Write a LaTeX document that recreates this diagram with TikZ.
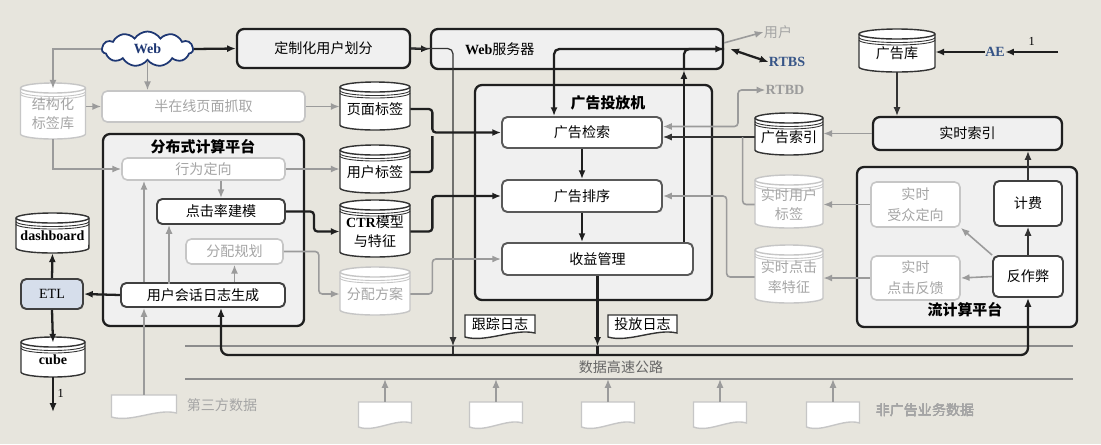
\documentclass[tikz,border=0pt]{standalone}
\usepackage{fontspec}
\setmainfont{Liberation Serif}
\newfontfamily\cjk{Noto Sans CJK SC}
\usetikzlibrary{arrows.meta,shapes.symbols,calc}

\definecolor{bgcol}{RGB}{231,229,221}
\definecolor{panelgray}{RGB}{240,240,240}
\definecolor{etlblue}{RGB}{214,222,235}
\definecolor{arrgray}{RGB}{155,155,155}
\definecolor{fadeborder}{RGB}{198,198,198}
\definecolor{fadetext}{RGB}{165,165,165}
\definecolor{webblue}{RGB}{30,55,115}
\definecolor{rtbsblue}{RGB}{55,85,135}

\tikzset{
  dims/.style 2 args={minimum width=(#1)*0.02cm, minimum height=(#2)*0.02cm, inner sep=0pt},
  blk/.style={draw=black!88, line width=1.3pt},
  blkthin/.style={draw=black!80, line width=0.7pt},
  gry/.style={draw=arrgray, line width=0.9pt},
  hwline/.style={draw=black!45, line width=1.2pt},
  panel/.style={draw=black!88, line width=1.3pt, rounded corners=4pt, fill=panelgray},
  ibox/.style={draw=black!75, line width=1.1pt, rounded corners=3pt, fill=white},
  fadebox/.style={draw=fadeborder, line width=0.9pt, rounded corners=3pt, fill=white, text=fadetext},
  cylline/.style={draw=black!80, line width=0.8pt},
  fcyl/.style={draw=fadeborder, text=fadetext},
  cyltext/.style={align=center, font=\cjk\fontsize{8}{11}\selectfont},
  docline/.style={draw=black!80, line width=0.8pt},
  fdoc/.style={draw=fadeborder, text=fadetext},
  ttl/.style={font=\cjk\bfseries\fontsize{8.5}{10}\selectfont},
  lat/.style={font=\rmfamily\bfseries\fontsize{8}{10}\selectfont},
  glabel/.style={text=fadetext},
}

% cylinder: [style]{name}{cx}{cy}{w}{h}{text}
\newcommand{\dbcyl}[7][]{%
  \pgfmathsetmacro{\cylrx}{#5*0.01}%
  \pgfmathsetmacro{\cylhh}{#6/2}%
  \begin{scope}[shift={(#3,#4)}]
    \filldraw[fill=white,cylline,#1] (-#5/2,-\cylhh+5) -- (-#5/2,\cylhh-5)
      arc[start angle=180,end angle=360,x radius=\cylrx cm,y radius=0.1cm]
      -- (#5/2,-\cylhh+5)
      arc[start angle=0,end angle=180,x radius=\cylrx cm,y radius=0.1cm] -- cycle;
    \draw[cylline,#1] (-#5/2,-\cylhh+5)
      arc[start angle=180,end angle=360,x radius=\cylrx cm,y radius=0.1cm];
    \foreach \s in {3.5,6}
      \draw[cylline,line width=0.5pt,#1] (-#5/2,-\cylhh+5+\s)
        arc[start angle=180,end angle=360,x radius=\cylrx cm,y radius=0.1cm];
  \end{scope}
  \node[cyltext,#1,draw=none,dims={#5}{#6-6}] (#2) at (#3,#4+3) {#7};
}

% document with wavy bottom: [style]{name}{cx}{cy}{w}{h}{text}
\newcommand{\logdoc}[7][]{%
  \begin{scope}[shift={(#3,#4)}]
    \filldraw[fill=white,docline,#1] (-#5/2,-#6/2) -- (#5/2,-#6/2) -- (#5/2,#6/2-4)
      .. controls (#5/5,#6/2-9) and (-#5/5,#6/2+6) .. (-#5/2,#6/2) -- cycle;
  \end{scope}
  \node[#1,draw=none,dims={#5}{#6-4}] (#2) at (#3,#4-2) {#7};
}

\begin{document}
\begin{tikzpicture}[x=0.02cm, y=-0.02cm, >={Latex[length=5pt,width=4pt]},
  every node/.style={font=\cjk\fontsize{8}{10}\selectfont, inner sep=0pt}]
\fill[bgcol] (0,0) rectangle (1101,444);
\useasboundingbox (0,0) rectangle (1101,444);

% platforms
\node[panel,dims={201}{192}] (dist) at (203.5,230) {};
\node[ttl] (distT) at (203,147) {分布式计算平台};
\node[panel,dims={237}{215}] (adm) at (593.5,192.5) {};
\node[ttl] (admT) at (608,103) {广告投放机};
\node[panel,dims={220}{160}] (stream) at (967,247) {};
\node[ttl] (streamT) at (965,310) {流计算平台};

% top row
\node[cloud, cloud puffs=11, cloud puff arc=115, aspect=2.6, draw=webblue, line width=1pt,
  fill=white, text=webblue, font=\rmfamily\bfseries\fontsize{8}{10}\selectfont,
  minimum width=1.82cm, minimum height=0.7cm, inner sep=0pt] (web) at (147.5,49) {Web};
\node[panel,dims={173}{39}] (custseg) at (323.5,48.5) {定制化用户划分};
\node[panel,dims={292}{40},inner xsep=0.68cm,text width=4.48cm,align=left] (websrv) at (577,49) {{\rmfamily\bfseries Web}服务器};

% left column
\dbcyl[fcyl]{structlib}{53}{111}{65}{56}{结构化\\标签库}
\node[fadebox,dims={203}{31}] (semion) at (203.5,106.5) {半在线页面抓取};
\node[fadebox,dims={163}{22}] (behav) at (203.5,169) {行为定向};
\node[ibox,dims={128}{25}] (ctrmod) at (221,211.5) {点击率建模};
\node[fadebox,dims={97}{25}] (alloc) at (234.5,251.5) {分配规划};
\node[ibox,dims={164}{24}] (sessgen) at (203,295) {用户会话日志生成};
\node[ibox,dims={62}{30},fill=etlblue,font=\rmfamily\fontsize{8}{10}\selectfont] (etl) at (52,294) {ETL};
\dbcyl{dash}{52.5}{233}{73}{40}{{\rmfamily\bfseries dashboard}}
\dbcyl{cube}{53}{357}{64}{40}{{\rmfamily\bfseries cube}}
\coordinate (cubeout) at (53,412);
\logdoc[fdoc]{thirdp}{144}{406}{65}{22}{}
\node[glabel] (thirdpT) at (222,405) {第三方数据};

% tag stores
\dbcyl{pagetag}{375}{106}{70}{48}{页面标签}
\dbcyl{usertag}{375}{169}{70}{48}{用户标签}
\dbcyl{ctrfeat}{375}{228.5}{70}{57}{{\rmfamily\bfseries CTR}模型\\与特征}
\dbcyl[fcyl]{allocplan}{375}{291}{70}{48}{分配方案}

% ad server
\node[ibox,draw=black!65,dims={160}{31}] (retr) at (582,132.5) {广告检索};
\node[ibox,draw=black!65,dims={160}{32}] (rank) at (582,196) {广告排序};
\node[ibox,draw=black!65,dims={191}{32}] (rev) at (597.5,259) {收益管理};
\logdoc{tracelog}{500}{326}{70}{22}{跟踪日志}
\logdoc{deliverlog}{642.5}{326}{69}{22}{投放日志}

% right side
\node[glabel] (usr) at (778,32) {用户};
\node[lat,text=rtbsblue] (rtbs) at (787,62) {RTBS};
\node[lat,text=arrgray] (rtbd) at (785,90) {RTBD};
\dbcyl{adlib}{897}{50.5}{76}{43}{广告库}
\node[lat,text=rtbsblue] (ae) at (995,52) {AE};
\coordinate (aein) at (1058,52);
\node[panel,dims={189}{33}] (rtidx) at (967.5,133.5) {实时索引};
\dbcyl{adidx}{789}{134}{68}{42}{广告索引}
\dbcyl[fcyl]{rtuser}{789}{201.5}{68}{53}{实时用户\\标签}
\dbcyl[fcyl]{rtctr}{789}{274}{68}{58}{实时点击\\率特征}
\node[fadebox,dims={89}{45},align=center,font=\cjk\fontsize{8}{12}\selectfont] (rtaud) at (915.5,204.5) {实时\\受众定向};
\node[ibox,dims={68}{45}] (billing) at (1028,203.5) {计费};
\node[fadebox,dims={89}{44},align=center,font=\cjk\fontsize{8}{12}\selectfont] (rtclick) at (915.5,278) {实时\\点击反馈};
\node[ibox,dims={70}{41}] (antifraud) at (1028,276.5) {反作弊};

% data highway
\coordinate (hwTL) at (185,346); \coordinate (hwTR) at (1073,346);
\coordinate (hwBL) at (185,379); \coordinate (hwBR) at (1073,379);
\coordinate (bus) at (600,355);
\coordinate (trkin) at (453,346);
\node[text=black!60] (hwT) at (621,367) {数据高速公路};
\foreach \n/\x in {1/385,2/496,3/608,4/720,5/833}
  \logdoc[fdoc]{d\n}{\x}{414.5}{53}{25}{}
\node[glabel] (nonad) at (925,410) {非广告业务数据};

\draw[hwline] (hwTL) -- (hwTR);
\draw[hwline] (hwBL) -- (hwBR);
\foreach \n in {1,...,5}
  \draw[gry,->] (d\n.north) -- (d\n.north |- hwBL);

% connectors, left
\draw[blk,->] (web.east) -- (custseg.west);
\draw[blk,->] (custseg.east) -- (websrv.west);
\draw[blkthin,->,rounded corners=3pt] (custseg.east) -| (trkin);
\draw[blkthin] (trkin) -- (trkin |- bus);
\draw[gry,->] (web.west) -| (structlib.north);
\draw[gry,->] (web.south) -- (web.south |- semion.north);
\draw[gry,->] (structlib.east |- semion.west) -- (semion.west);
\draw[gry,->] (semion.east) -- (pagetag.west |- semion.east);
\draw[gry,->] (structlib.south) |- (behav.west);
\draw[gry,->] (behav.east) -- (usertag.west |- behav.east);
\draw[gry,->] (behav.south -| ctrmod) -- (ctrmod.north);
\draw[blk,->,rounded corners=2pt] (ctrmod.east) -- ++(28,0) |- (ctrfeat.west);
\draw[gry,->,rounded corners=2pt] (alloc.east) -- ++(35,0) |- (allocplan.west);
\draw[gry,->] (sessgen.north -| thirdp) -- (behav.south -| thirdp);
\draw[gry,<-] ($(ctrmod.south west)+(13,0)$) -- ++(0,59);
\draw[gry,->] (sessgen.north -| alloc) -- (alloc.south);
\draw[blk,->] (sessgen.west) -- (etl.east);
\draw[blk,->] (etl.north) -- (dash.south);
\draw[blk,->] (etl.south) -- (cube.north);
\draw[blk,->] (cube.south) -- (cubeout) node[pos=0.45,right=2pt,font=\rmfamily\scriptsize] {1};
\draw[gry,->] (thirdp.north) -- (sessgen.south -| thirdp);

% connectors, middle
\draw[blk,->,rounded corners=2pt] (pagetag.east) -- ++(22,0) |- (retr.west);
\draw[blk,rounded corners=2pt] (usertag.east) -- ++(22,0) -- ++(0,-36);
\draw[blk,->,rounded corners=2pt] (ctrfeat.east) -- ++(22,0) |- (rank.west);
\draw[gry,->,rounded corners=2pt] (allocplan.east) -- ++(22,0) |- (rev.west);
\draw[blk,->] (retr.south) -- (rank.north);
\draw[blk,->] (rank.south) -- (rank.south |- rev.north);
\coordinate (retrup) at ($(retr.north west)+(53,0)$);
\draw[blk,<->,rounded corners=3pt] (retrup) |- (websrv.east);
\coordinate (revup) at ($(rev.north east)+(-10,0)$);
\draw[blk,->] (revup) -- (revup |- websrv.south);
\draw[blk,rounded corners=3pt] (revup |- websrv.south) |- (websrv.east);
\draw[blk,->] (rev.south) -- (rev.south |- hwTL);
\draw[blk] (rev.south |- hwTL) -- (rev.south |- bus);
\draw[blk,<->,rounded corners=4pt] (sessgen.south -| ctrmod) |- (bus) -| (antifraud.south);

% connectors, right
\draw[blk,<->] ($(websrv.east)+(6,0)$) -- (rtbs.west);
\draw[gry,->] ($(websrv.north east)+(0,15)$) -- (usr.west);
\draw[gry,<->,rounded corners=2pt] ($(retr.east)+(0,-6)$) -- ++(75,0) |- (rtbd.west);
\draw[blkthin,->] (adidx.west) -- (adidx.west -| retr.east);
\coordinate (j1) at ($(adidx.west)+(-12,0)$);
\draw[gry,rounded corners=2pt] (rtuser.west) -| (j1);
\draw[gry,->,rounded corners=2pt] (rtctr.west) -- ++(-28,0) |- (rank.east);
\draw[gry,->] (rtidx.west) -- (rtidx.west -| adidx.east);
\draw[blkthin,->] (adlib.south) -- (adlib.south |- rtidx.north);
\draw[blk,->] (ae.west) -- (ae.west -| adlib.east);
\draw[blk,->] (aein) -- (ae.east) node[midway,above=3pt,font=\rmfamily\scriptsize] {1};
\draw[blkthin,->] (billing.north) -- (billing.north |- rtidx.south);
\draw[blkthin,->] (antifraud.north) -- (billing.south);
\draw[gry,->] (antifraud.north west) -- (rtaud.south east);
\draw[gry,->] (antifraud.west) -- (rtclick.east);
\draw[gry,->] (rtaud.west) -- (rtaud.west -| rtuser.east);
\draw[gry,->] (rtclick.west) -- (rtclick.west -| rtctr.east);
\end{tikzpicture}
\end{document}
